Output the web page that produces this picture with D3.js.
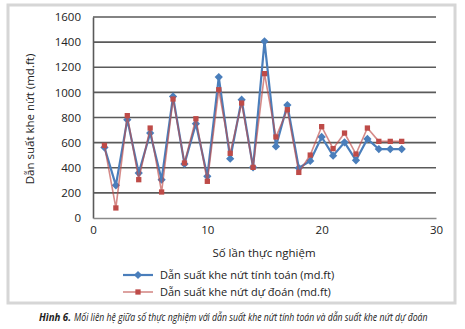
<!DOCTYPE html>
<html>
<head>
<meta charset="utf-8">
<script src="https://cdn.jsdelivr.net/npm/d3@7"></script>
<style>
  html, body { margin: 0; padding: 0; background: #fff; }
  svg { display: block; }
  text { font-family: "Open Sans", "Noto Sans", sans-serif; fill: #222; }
</style>
</head>
<body>
<svg id="chart" width="465" height="329"></svg>
<script>
// Experiment number (x) and fracture conductivity values (md.ft)
const runs = d3.range(1, 28);
const calculated = [562, 260, 783, 358, 676, 305, 968, 430, 751, 332, 1122, 472, 942, 403,
                    1406, 570, 899, 398, 454, 645, 496, 602, 459, 629, 549, 549, 549];
const predicted  = [578, 80, 815, 305, 716, 207, 947, 438, 790, 292, 1021, 515, 915, 403,
                    1149, 645, 862, 363, 501, 727, 552, 676, 509, 716, 610, 610, 610];
const xTicks = [0, 10, 20, 30];
const yTicks = [0, 200, 400, 600, 800, 1000, 1200, 1400, 1600];
const seriesNames = ["Dẫn suất khe nứt tính toán (md.ft)", "Dẫn suất khe nứt dự đoán (md.ft)"];

const svg = d3.select("#chart");

// outer frame
svg.append("rect")
  .attr("x", 8).attr("y", 5).attr("width", 447).attr("height", 298)
  .attr("fill", "#fff").attr("stroke", "#d6d6d6").attr("stroke-width", 3);

const x = d3.scaleLinear().domain([0, 30]).range([93, 436]);
const y = d3.scaleLinear().domain([0, 1600]).range([218, 17]);

// horizontal gridlines
svg.append("g").selectAll("line")
  .data(yTicks.filter(d => d > 0))
  .join("line")
  .attr("x1", x(0)).attr("x2", x(30))
  .attr("y1", d => y(d)).attr("y2", d => y(d))
  .attr("stroke", "#5a5a5a").attr("stroke-width", 1.6);

// y axis
const yAxis = svg.append("g")
  .attr("transform", `translate(${x(0)},0)`)
  .call(d3.axisLeft(y).tickValues(yTicks).tickSize(0).tickPadding(12).tickFormat(d3.format("d")));
yAxis.select(".domain").attr("stroke", "#5a5a5a").attr("stroke-width", 1.6);
yAxis.selectAll("text").style("font-size", "11.5px").attr("fill", "#222");

// x axis
const xAxis = svg.append("g")
  .attr("transform", `translate(0,${y(0)})`)
  .call(d3.axisBottom(x).tickValues(xTicks).tickSize(0).tickPadding(8).tickFormat(d3.format("d")));
xAxis.select(".domain").attr("stroke", "#8a8a8a").attr("stroke-width", 1.4);
xAxis.selectAll("text").style("font-size", "11.5px").attr("fill", "#222");

// axis titles
svg.append("text")
  .attr("transform", `translate(34,119) rotate(-90)`)
  .attr("text-anchor", "middle")
  .style("font-size", "11.5px")
  .text("Dẫn suất khe nứt (md.ft)");
svg.append("text")
  .attr("x", 264).attr("y", 257)
  .attr("text-anchor", "middle")
  .style("font-size", "11.5px")
  .text("Số lần thực nghiệm");

const blue = "#4a7ebb", red = "#be4b48";
const line = d3.line().x(d => x(d[0])).y(d => y(d[1]));
// diamond = square turned 45 degrees
const diamond = d3.symbol().type(d3.symbolSquare).size(34);
const square = d3.symbol().type(d3.symbolSquare).size(28);

const calcPts = runs.map((r, i) => [r, calculated[i]]);
const predPts = runs.map((r, i) => [r, predicted[i]]);

// calculated series
svg.append("path").datum(calcPts).attr("d", line)
  .attr("fill", "none").attr("stroke", blue).attr("stroke-width", 2.2);
svg.append("g").selectAll("path").data(calcPts).join("path")
  .attr("d", diamond)
  .attr("transform", d => `translate(${x(d[0])},${y(d[1])}) rotate(45)`)
  .attr("fill", blue);

// predicted series
svg.append("path").datum(predPts).attr("d", line)
  .attr("fill", "none").attr("stroke", red).attr("stroke-opacity", 0.65).attr("stroke-width", 1.6);
svg.append("g").selectAll("path").data(predPts).join("path")
  .attr("d", square)
  .attr("transform", d => `translate(${x(d[0])},${y(d[1])})`)
  .attr("fill", red);

// legend
const legend = svg.append("g");
const legendRows = [
  { name: seriesNames[0], color: blue, sym: diamond, rot: 45, lw: 2.2, op: 1, y: 275 },
  { name: seriesNames[1], color: red, sym: square, rot: 0, lw: 1.6, op: 0.65, y: 292 }
];
legendRows.forEach(r => {
  legend.append("line")
    .attr("x1", 123).attr("x2", 153).attr("y1", r.y).attr("y2", r.y)
    .attr("stroke", r.color).attr("stroke-opacity", r.op).attr("stroke-width", r.lw);
  legend.append("path").attr("d", r.sym)
    .attr("transform", `translate(138,${r.y}) rotate(${r.rot})`).attr("fill", r.color);
  legend.append("text")
    .attr("x", 160).attr("y", r.y + 4)
    .style("font-size", "11px")
    .text(r.name);
});

// caption below the frame, horizontally condensed to fit its span
const capFont = "'Liberation Sans Narrow', 'Open Sans', sans-serif";
function condensed(x0, width, text, bold) {
  const g = svg.append("g");
  const t = g.append("text")
    .style("font-size", "10.5px").style("font-style", "italic")
    .style("font-weight", bold ? "bold" : "normal")
    .style("font-family", capFont)
    .text(text);
  const k = width / t.node().getComputedTextLength();
  g.attr("transform", `translate(${x0},321) scale(${k},1)`);
}
condensed(39, 32, "Hình 6.", true);
condensed(74, 354, "Mối liên hệ giữa số thực nghiệm với dẫn suất khe nứt tính toán và dẫn suất khe nứt dự đoán", false);
</script>
</body>
</html>
